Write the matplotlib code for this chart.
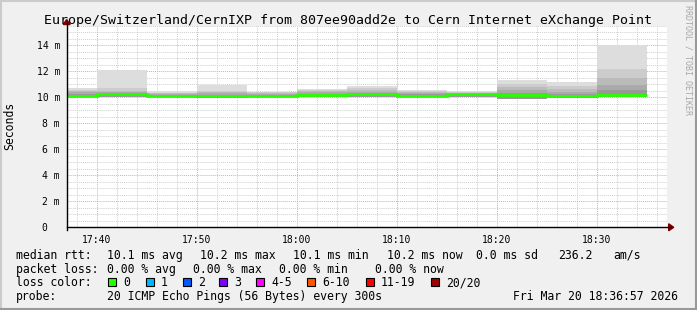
import numpy as np
import matplotlib
matplotlib.use("Agg")
import matplotlib.pyplot as plt
from matplotlib.patches import Rectangle, Polygon
from matplotlib.lines import Line2D

# 5-minute bins (start time of each bin)
bin_start = ["17:35", "17:40", "17:45", "17:50", "17:55", "18:00",
             "18:05", "18:10", "18:15", "18:20", "18:25", "18:30"]
# values in ms
smoke_max = [10.69, 12.10, 10.45, 10.92, 10.43, 10.62, 10.84, 10.56, 10.48, 11.30, 11.14, 14.02]
smoke_q4 = [10.60, 10.68, 10.36, 10.50, 10.38, 10.55, 10.70, 10.46, 10.42, 11.02, 10.84, 12.15]
smoke_q3 = [10.50, 10.52, 10.30, 10.42, 10.32, 10.48, 10.55, 10.38, 10.36, 10.82, 10.62, 11.50]
smoke_q2 = [10.38, 10.42, 10.25, 10.32, 10.26, 10.40, 10.42, 10.30, 10.32, 10.56, 10.40, 10.95]
smoke_q1 = [10.25, 10.32, 10.20, 10.20, 10.20, 10.28, 10.32, 10.22, 10.28, 10.35, 10.22, 10.56]
smoke_min = [10.00, 10.05, 10.00, 9.98, 10.00, 10.02, 10.05, 10.00, 10.05, 9.90, 9.95, 10.00]
median = [10.12, 10.24, 10.10, 10.07, 10.10, 10.14, 10.22, 10.12, 10.22, 10.21, 10.08, 10.21]

xtick_labels = ["17:40", "17:50", "18:00", "18:10", "18:20", "18:30"]
ytick_vals = [0, 2, 4, 6, 8, 10, 12, 14]

loss_labels = ["0", "1", "2", "3", "4-5", "6-10", "11-19", "20/20"]
loss_colors = ["#26ff00", "#00b8ff", "#0059ff", "#7e00ff", "#ff00ff", "#ff5500", "#ff0000", "#a10000"]

title = "Europe/Switzerland/CernIXP from 807ee90add2e to Cern Internet eXchange Point"


def minutes(s):
    h, m = s.split(":")
    return int(h) * 60 + int(m) - 17 * 60


W, H = 697, 310
def fx(x):
    return x / W
def fy(y):
    return 1 - y / H

MONO = "DejaVu Sans Mono"
plt.rcParams["font.family"] = MONO

fig = plt.figure(figsize=(W / 100, H / 100), dpi=100, facecolor="#f0f0f0")

# plot area in pixels
x0, x1 = 66.7, 666.7
y_bot, y_top = 227.3, 25.5
ymax = (y_bot - y_top) / 13.0
ax = fig.add_axes([fx(x0), fy(y_bot), (x1 - x0) / W, (y_bot - y_top) / H])
ax.set_facecolor("white")
for s in ax.spines.values():
    s.set_visible(False)

edges = [minutes(t) for t in bin_start] + [minutes(bin_start[-1]) + 5]
ax.set_xlim(37, 97)
ax.set_ylim(0, ymax)

# grid
ax.set_xticks(np.arange(38, 97, 2), minor=True)
ax.set_xticks([minutes(t) for t in xtick_labels])
ax.set_xticklabels(xtick_labels)
ax.set_yticks(np.arange(0, ymax, 0.5), minor=True)
ax.set_yticks(ytick_vals)
ax.set_yticklabels(["0  "] + [f"{v} m" for v in ytick_vals[1:]])
ax.grid(True, which="minor", color="#cfcfcf", linestyle=(0, (1, 1)), lw=0.7)
ax.grid(True, which="major", color="#f3a0a0", linestyle=(0, (1, 1)), lw=0.7)
ax.tick_params(which="both", length=0)
ax.tick_params(axis="x", pad=5.5, labelsize=7)
ax.tick_params(axis="y", pad=4.8, labelsize=7)
ax.set_axisbelow(True)

# smoke
shades = ["#dddddd", "#cccccc", "#bbbbbb", "#aaaaaa", "#999999"]
for top, c in zip([smoke_max, smoke_q4, smoke_q3, smoke_q2, smoke_q1], shades):
    ax.stairs(top, edges, baseline=smoke_min, fill=True, color=c, lw=0, zorder=2)

# median
ax.stairs(median, edges, baseline=None, color="#26ff00", lw=2.0, zorder=3)

# axes lines with arrows
axis_col = "#000000"
arrow_col = "#7f0000"
fig.add_artist(Line2D([fx(x0), fx(x1 + 4)], [fy(y_bot), fy(y_bot)], color=axis_col, lw=1.0))
fig.add_artist(Line2D([fx(x0), fx(x0)], [fy(y_bot + 3), fy(y_top - 3)], color=axis_col, lw=1.0))
fig.add_artist(Polygon([[fx(x1 + 2), fy(y_bot - 3.5)], [fx(x1 + 2), fy(y_bot + 3.5)], [fx(x1 + 7), fy(y_bot)]],
                       closed=True, color=arrow_col, transform=fig.transFigure))
fig.add_artist(Polygon([[fx(x0 - 3.5), fy(y_top - 1)], [fx(x0 + 3.5), fy(y_top - 1)], [fx(x0), fy(y_top - 6)]],
                       closed=True, color=arrow_col, transform=fig.transFigure))

# title and labels
fig.text(fx(348.5), fy(24), title, ha="center", va="baseline", fontsize=9.5)
fig.text(fx(10), fy((y_bot + y_top) / 2), "Seconds", rotation=90, ha="center", va="center", fontsize=8.3)
fig.text(fx(688), fy(60), "RRDTOOL / TOBI OETIKER", rotation=270, ha="center", va="center",
         fontsize=6, color="#a8a8a8")

fs = 8.3
rows = [259, 272.7, 286.3, 300]
def put(x, row, s):
    fig.text(fx(x), fy(rows[row]), s, ha="left", va="baseline", fontsize=fs)

put(16, 0, "median rtt:")
for x, s in [(107.3, "10.1 ms avg"), (200, "10.2 ms max"), (292.7, "10.1 ms min"),
             (386.7, "10.2 ms now"), (476, "0.0 ms sd"), (558.3, "236.2"), (613.3, "am/s")]:
    put(x, 0, s)
put(16, 1, "packet loss:")
for x, s in [(107.3, "0.00 % avg"), (193.3, "0.00 % max"), (279.3, "0.00 % min"), (375, "0.00 % now")]:
    put(x, 1, s)
put(16, 2, "loss color:")
box_x = [108.3, 145.7, 182.7, 219.3, 256, 307.3, 365.7, 430.7]
for bx, lab, c in zip(box_x, loss_labels, loss_colors):
    fig.add_artist(Rectangle((fx(bx), fy(286)), 8 / W, 8 / H, facecolor=c, edgecolor="black",
                             lw=0.8, transform=fig.transFigure))
    put(bx + 15, 2, lab)
put(16, 3, "probe:")
put(107.3, 3, "20 ICMP Echo Pings (56 Bytes) every 300s")
put(513.3, 3, "Fri Mar 20 18:36:57 2026")

# 3D border
fig.add_artist(Line2D([0, 1], [fy(1), fy(1)], color="#cbcbcb", lw=1.5))
fig.add_artist(Line2D([fx(1), fx(1)], [0, 1], color="#cbcbcb", lw=1.5))
fig.add_artist(Line2D([0, 1], [fy(H - 1), fy(H - 1)], color="#999999", lw=1.5))
fig.add_artist(Line2D([fx(W - 1), fx(W - 1)], [0, 1], color="#999999", lw=1.5))

fig.savefig("out.png", dpi=100, facecolor=fig.get_facecolor())
